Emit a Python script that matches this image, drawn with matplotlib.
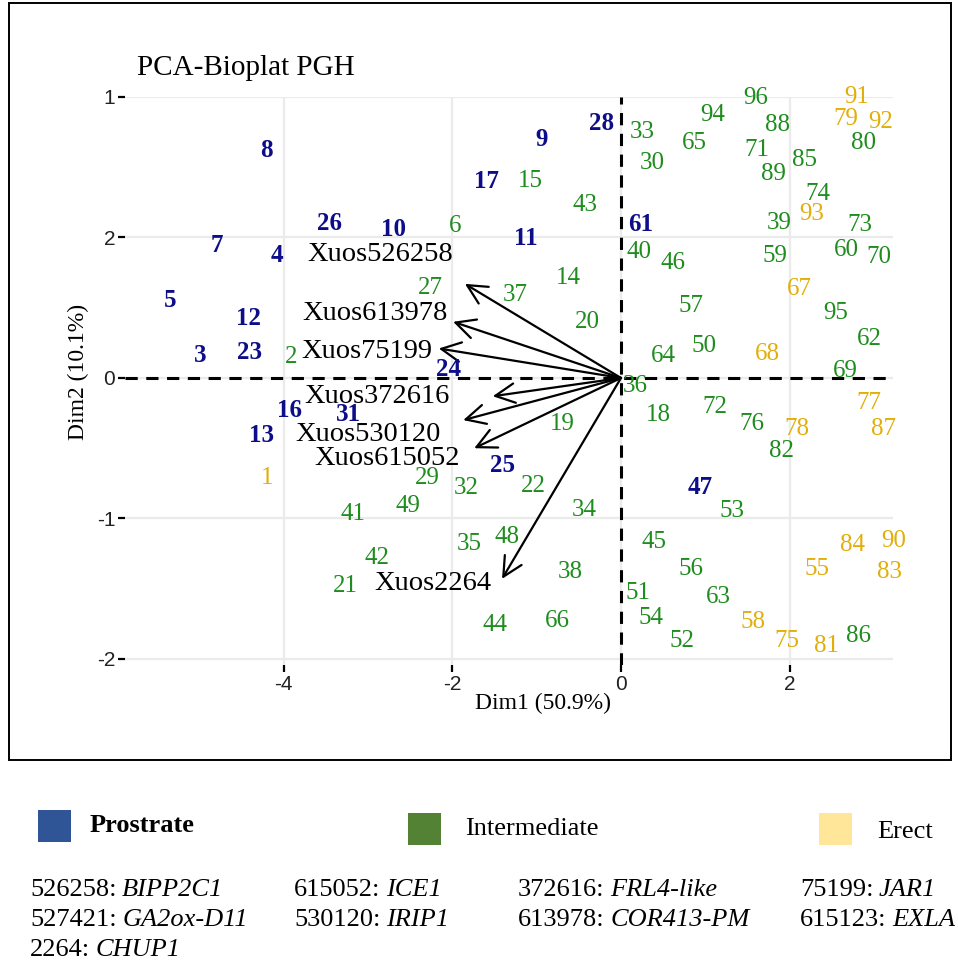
import matplotlib
matplotlib.use("Agg")
import matplotlib.pyplot as plt
from matplotlib.patches import Rectangle

# ---- individuals (PCA scores), grouped by growth habit ----
prostrate_ids = ["3", "4", "5", "7", "8", "9", "10", "11", "12", "13", "16", "17",
                 "23", "24", "25", "26", "28", "31", "47", "61"]
prostrate_x = [-4.99, -4.08, -5.35, -4.79, -4.20, -0.94, -2.70, -1.13, -4.42, -4.26,
               -3.93, -1.60, -4.40, -2.04, -1.41, -3.45, -0.23, -3.23, 0.94, 0.23]
prostrate_y = [0.16, 0.87, 0.55, 0.94, 1.62, 1.70, 1.06, 0.99, 0.42, -0.41,
               -0.23, 1.40, 0.18, 0.06, -0.62, 1.10, 1.81, -0.26, -0.78, 1.09]

erect_ids = ["1", "55", "58", "67", "68", "75", "77", "78", "79", "81", "83", "84",
             "87", "90", "91", "92", "93"]
erect_x = [-4.20, 2.32, 1.57, 2.12, 1.73, 1.97, 2.94, 2.09, 2.66, 2.44, 3.18, 2.75,
           3.11, 3.23, 2.79, 3.08, 2.26]
erect_y = [-0.71, -1.36, -1.74, 0.63, 0.17, -1.87, -0.18, -0.36, 1.84, -1.91, -1.38,
           -1.19, -0.36, -1.16, 2.00, 1.82, 1.17]

inter_ids = ["2", "6", "14", "15", "18", "19", "20", "21", "22", "27", "29", "30",
             "32", "33", "34", "35", "36", "37", "38", "39", "40", "41", "42", "43",
             "44", "45", "46", "48", "49", "50", "51", "52", "53", "54", "56", "57",
             "59", "60", "62", "63", "64", "65", "66", "69", "70", "71", "72", "73",
             "74", "76", "80", "82", "85", "86", "88", "89", "94", "95", "96"]
inter_x = [-3.91, -1.97, -0.62, -1.07, 0.44, -0.70, -0.40, -3.27, -1.04, -2.26, -2.30, 0.37,
           -1.83, 0.25, -0.44, -1.80, 0.17, -1.25, -0.60, 1.87, 0.21, -3.18, -2.89, -0.43,
           -1.49, 0.39, 0.62, -1.35, -2.53, 0.98, 0.20, 0.72, 1.32, 0.36, 0.83, 0.83,
           1.83, 2.67, 2.94, 1.16, 0.50, 0.87, -0.75, 2.66, 3.06, 1.61, 1.11, 2.83,
           2.34, 1.55, 2.87, 1.90, 2.18, 2.82, 1.85, 1.81, 1.09, 2.55, 1.60]
inter_y = [0.15, 1.08, 0.71, 1.40, -0.26, -0.33, 0.40, -1.48, -0.77, 0.64, -0.71, 1.53,
           -0.78, 1.75, -0.94, -1.18, -0.06, 0.59, -1.38, 1.10, 0.90, -0.97, -1.28, 1.23,
           -1.76, -1.17, 0.82, -1.13, -0.91, 0.23, -1.53, -1.87, -0.95, -1.71, -1.36, 0.51,
           0.87, 0.91, 0.28, -1.56, 0.16, 1.67, -1.73, 0.05, 0.86, 1.62, -0.21, 1.09,
           1.31, -0.33, 1.67, -0.52, 1.55, -1.84, 1.80, 1.45, 1.87, 0.46, 1.99]

# ---- variables (gene loadings) ----
var_names = ["Xuos526258", "Xuos613978", "Xuos75199", "Xuos372616",
             "Xuos530120", "Xuos615052", "Xuos2264"]
var_x = [-1.85, -1.99, -2.16, -1.52, -1.87, -1.74, -1.41]
var_y = [0.67, 0.40, 0.21, -0.13, -0.30, -0.50, -1.43]
var_label_x = [-2.85, -2.92, -3.01, -2.89, -3.00, -2.77, -2.23]
var_label_y = [0.88, 0.46, 0.19, -0.13, -0.40, -0.57, -1.46]

# ---- axis ticks ----
x_ticks = [-4, -2, 0, 2]
x_tick_labels = ["-4", "-2", "0", "2"]
y_ticks = [2, 1, 0, -1, -2]
y_tick_labels = ["1", "2", "0", "-1", "-2"]

# ---- legend and gene annotation ----
group_names = ["Prostrate", "Intermediate", "Erect"]
group_swatch = ["#2F5597", "#548235", "#FFE699"]
gene_ids = ["526258:", "615052:", "372616:", "75199:",
            "527421:", "530120:", "613978:", "615123:",
            "2264:"]
gene_names = ["BIPP2C1", "ICE1", "FRL4-like", "JAR1",
              "GA2ox-D11", "IRIP1", "COR413-PM", "EXLA",
              "CHUP1"]

SERIF = "Liberation Serif"
SANS = "Liberation Sans"
W, H = 958, 973

fig = plt.figure(figsize=(W / 100, H / 100), dpi=100)
fig.patch.set_facecolor("white")


def fx(px):
    return px / W


def fy(py):
    return 1 - py / H


# outer frame around the biplot
fig.add_artist(Rectangle((fx(9), fy(760)), fx(951) - fx(9), fy(3) - fy(760),
                         transform=fig.transFigure, fill=False,
                         edgecolor="black", linewidth=1.4))

ax = fig.add_axes([fx(125), fy(665), fx(893) - fx(125), fy(97) - fy(665)])
ax.set_xlim(-5.88, 3.225)
ax.set_ylim(-2.043, 1.986)
for s in ax.spines.values():
    s.set_visible(False)

ax.set_xticks(x_ticks)
ax.set_xticklabels(x_tick_labels)
ax.set_yticks(y_ticks)
ax.set_yticklabels(y_tick_labels)
ax.tick_params(length=5, width=1.6, color="black", labelsize=15,
               labelcolor="#222222", pad=2)
for lab in ax.get_xticklabels() + ax.get_yticklabels():
    lab.set_family(SANS)
ax.grid(True, color="#ebebeb", linewidth=1.6)
ax.set_axisbelow(True)

ax.axhline(0, color="black", linewidth=2.2, linestyle=(0, (4, 2.8)), zorder=2)
ax.axvline(0, color="black", linewidth=2.2, linestyle=(0, (4, 2.8)), zorder=2)

# loading arrows with their labels
for name, x, y, lx, ly in zip(var_names, var_x, var_y, var_label_x, var_label_y):
    ax.annotate("", xy=(x, y), xytext=(0, 0),
                arrowprops=dict(arrowstyle="->,head_length=0.7,head_width=0.35",
                                lw=1.6, color="black", shrinkA=0, shrinkB=0,
                                mutation_scale=20), zorder=3)
    ax.text(lx, ly, name, family=SERIF, fontsize=20.5, color="black",
            ha="center", va="center", zorder=4)

# individual labels
for ids, xs, ys, col, wt in [
    (inter_ids, inter_x, inter_y, "#1E8C1E", "normal"),
    (erect_ids, erect_x, erect_y, "#E2AE0A", "normal"),
    (prostrate_ids, prostrate_x, prostrate_y, "#0D0D8A", "bold"),
]:
    for t, x, y in zip(ids, xs, ys):
        ax.text(x, y, t, family=SERIF, fontsize=18, color=col, fontweight=wt,
                ha="center", va="center", zorder=5)

fig.text(fx(137), fy(68), "PCA-Bioplat PGH", family=SERIF, fontsize=21,
         ha="left", va="center")
fig.text(fx(543), fy(703), "Dim1 (50.9%)", family=SERIF, fontsize=17,
         ha="center", va="center")
fig.text(fx(78), fy(372), "Dim2 (10.1%)", family=SERIF, fontsize=17,
         ha="center", va="center", rotation=90)

# group legend
sw_x = [38, 408, 819]
sw_y = [810, 813, 813]
txt_x = [90, 465, 877]
txt_base = [832, 835, 838]
for i, (name, col) in enumerate(zip(group_names, group_swatch)):
    fig.add_artist(Rectangle((fx(sw_x[i]), fy(sw_y[i] + 32)), fx(33), 32 / H,
                             transform=fig.transFigure, facecolor=col,
                             edgecolor="none"))
    fig.text(fx(txt_x[i]), fy(txt_base[i]), name, family=SERIF, fontsize=19,
             fontweight="bold" if i == 0 else "normal", ha="left", va="baseline")

# gene id -> gene name key
col_x = [30, 294, 518, 800]
row_base = [896, 926, 956]
for k, (gid, gname) in enumerate(zip(gene_ids, gene_names)):
    r, c = divmod(k, 4)
    t = fig.text(fx(col_x[c]), fy(row_base[r]), gid, family=SERIF, fontsize=19,
                 ha="left", va="baseline")
    ax.annotate(gname, xy=(1, 0), xycoords=t, xytext=(4, 0),
                textcoords="offset points", family=SERIF, fontsize=19,
                style="italic", ha="left", va="bottom", annotation_clip=False)

fig.savefig("out.png", dpi=100, facecolor="white")
